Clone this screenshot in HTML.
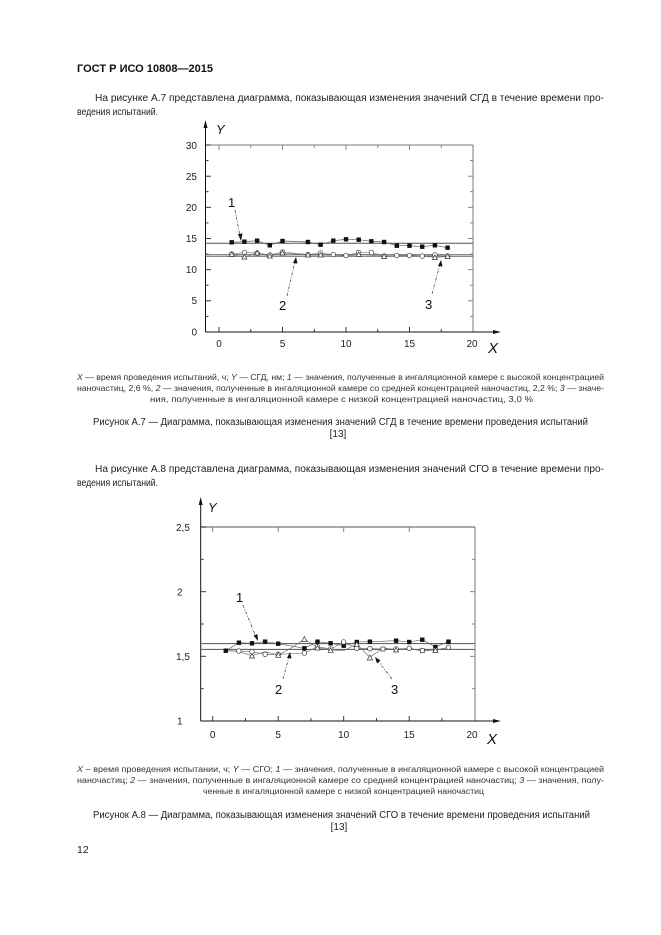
<!DOCTYPE html>
<html><head><meta charset="utf-8"><style>
html,body{margin:0;padding:0;background:#fff;}
svg{display:block;}
text{font-family:"Liberation Sans",Arial,sans-serif;}
</style></head><body>
<svg width="661" height="935" viewBox="0 0 661 935" xmlns="http://www.w3.org/2000/svg">
<rect width="661" height="935" fill="#fff"/>

<!-- Header -->
<text x="77" y="72" font-size="11" font-weight="bold" fill="#111" textLength="136" lengthAdjust="spacingAndGlyphs">ГОСТ Р ИСО 10808—2015</text>

<!-- Paragraph 1 -->
<text x="95" y="101" font-size="10" fill="#222" textLength="509" lengthAdjust="spacingAndGlyphs">На рисунке А.7 представлена диаграмма, показывающая изменения значений СГД в течение времени про-</text>
<text x="77" y="115" font-size="10" fill="#222" textLength="81" lengthAdjust="spacingAndGlyphs">ведения испытаний.</text>

<!-- ================= CHART 1 ================= -->
<g>
  <line x1="205.5" y1="145" x2="473" y2="145" stroke="#777" stroke-width="1"/>
  <line x1="473" y1="145" x2="473" y2="332" stroke="#777" stroke-width="1"/>
  <line x1="205.5" y1="332" x2="205.5" y2="126" stroke="#111" stroke-width="1"/>
  <polygon points="205.5,120 203.5,128 207.5,128" fill="#111"/>
  <line x1="205.5" y1="332" x2="494" y2="332" stroke="#111" stroke-width="1"/>
  <polygon points="501,332 493,330 493,334" fill="#111"/>
  <g stroke="#222" stroke-width="0.9">
    <line x1="205.5" y1="300.8" x2="211" y2="300.8"/><line x1="205.5" y1="269.7" x2="211" y2="269.7"/>
    <line x1="205.5" y1="238.5" x2="211" y2="238.5"/><line x1="205.5" y1="207.3" x2="211" y2="207.3"/>
    <line x1="205.5" y1="176.2" x2="211" y2="176.2"/><line x1="205.5" y1="145" x2="211" y2="145"/>
    <line x1="205.5" y1="316.4" x2="208.5" y2="316.4"/><line x1="205.5" y1="285.2" x2="208.5" y2="285.2"/>
    <line x1="205.5" y1="254.1" x2="208.5" y2="254.1"/><line x1="205.5" y1="222.9" x2="208.5" y2="222.9"/>
    <line x1="205.5" y1="191.7" x2="208.5" y2="191.7"/><line x1="205.5" y1="160.6" x2="208.5" y2="160.6"/>
  </g>
  <g stroke="#777" stroke-width="0.9">
    <line x1="473" y1="300.8" x2="468" y2="300.8"/><line x1="473" y1="269.7" x2="468" y2="269.7"/>
    <line x1="473" y1="238.5" x2="468" y2="238.5"/><line x1="473" y1="207.3" x2="468" y2="207.3"/>
    <line x1="473" y1="176.2" x2="468" y2="176.2"/>
    <line x1="473" y1="316.4" x2="470" y2="316.4"/><line x1="473" y1="285.2" x2="470" y2="285.2"/>
    <line x1="473" y1="254.1" x2="470" y2="254.1"/><line x1="473" y1="222.9" x2="470" y2="222.9"/>
    <line x1="473" y1="191.7" x2="470" y2="191.7"/><line x1="473" y1="160.6" x2="470" y2="160.6"/>
    <line x1="219" y1="145" x2="219" y2="150"/><line x1="282.5" y1="145" x2="282.5" y2="150"/>
    <line x1="346" y1="145" x2="346" y2="150"/><line x1="409.5" y1="145" x2="409.5" y2="150"/>
    <line x1="250.75" y1="145" x2="250.75" y2="148"/><line x1="314.25" y1="145" x2="314.25" y2="148"/>
    <line x1="377.75" y1="145" x2="377.75" y2="148"/><line x1="441.25" y1="145" x2="441.25" y2="148"/>
  </g>
  <g stroke="#222" stroke-width="0.9">
    <line x1="219" y1="332" x2="219" y2="327"/><line x1="282.5" y1="332" x2="282.5" y2="327"/>
    <line x1="346" y1="332" x2="346" y2="327"/><line x1="409.5" y1="332" x2="409.5" y2="327"/>
    <line x1="250.75" y1="332" x2="250.75" y2="329"/><line x1="314.25" y1="332" x2="314.25" y2="329"/>
    <line x1="377.75" y1="332" x2="377.75" y2="329"/><line x1="441.25" y1="332" x2="441.25" y2="329"/>
  </g>
  <g font-size="10" fill="#222" text-anchor="end">
    <text x="197" y="149">30</text><text x="197" y="180">25</text><text x="197" y="211">20</text>
    <text x="197" y="242">15</text><text x="197" y="273">10</text><text x="197" y="304">5</text>
    <text x="197" y="335.5">0</text>
  </g>
  <g font-size="10" fill="#222" text-anchor="middle">
    <text x="219" y="347">0</text><text x="282.5" y="347">5</text><text x="346" y="347">10</text>
    <text x="409.5" y="347">15</text><text x="472" y="347">20</text>
  </g>
  <text x="216" y="134" font-size="13" font-style="italic" fill="#111">Y</text>
  <text x="488" y="353" font-size="15" font-style="italic" fill="#111">X</text>

  <line x1="205.5" y1="243.3" x2="473" y2="243.3" stroke="#555" stroke-width="1"/>
  <line x1="205.5" y1="254.6" x2="473" y2="254.6" stroke="#777" stroke-width="1"/>
  <line x1="205.5" y1="256.2" x2="473" y2="256.2" stroke="#666" stroke-width="1"/>

  <polyline fill="none" stroke="#555" stroke-width="0.7" points="231.7,242.3 244.4,241.7 257.1,240.7 269.8,245.3 282.5,241 307.9,242 320.6,244.7 333.3,240.7 346,239.3 358.7,239.7 371.4,241.3 384.1,242 396.8,245.7 409.5,245.7 422.2,246.7 434.9,245.3 447.6,247.7"/>
  <g fill="#111">
    <rect x="229.5" y="240.1" width="4.4" height="4.4"/><rect x="242.2" y="239.5" width="4.4" height="4.4"/>
    <rect x="254.9" y="238.5" width="4.4" height="4.4"/><rect x="267.6" y="243.1" width="4.4" height="4.4"/>
    <rect x="280.3" y="238.8" width="4.4" height="4.4"/><rect x="305.7" y="239.8" width="4.4" height="4.4"/>
    <rect x="318.4" y="242.5" width="4.4" height="4.4"/><rect x="331.1" y="238.5" width="4.4" height="4.4"/>
    <rect x="343.8" y="237.1" width="4.4" height="4.4"/><rect x="356.5" y="237.5" width="4.4" height="4.4"/>
    <rect x="369.2" y="239.1" width="4.4" height="4.4"/><rect x="381.9" y="239.8" width="4.4" height="4.4"/>
    <rect x="394.6" y="243.5" width="4.4" height="4.4"/><rect x="407.3" y="243.5" width="4.4" height="4.4"/>
    <rect x="420" y="244.5" width="4.4" height="4.4"/><rect x="432.7" y="243.1" width="4.4" height="4.4"/>
    <rect x="445.4" y="245.5" width="4.4" height="4.4"/>
  </g>
  <polyline fill="none" stroke="#666" stroke-width="0.6" points="231.7,254 244.4,252.5 257.1,253 269.8,255 282.5,252 307.9,254.5 320.6,253 333.3,254.5 346,255.5 358.7,252.5 371.4,252.5 384.1,256 396.8,255.5 409.5,255.5 422.2,256 434.9,255 447.6,256"/>
  <polyline fill="none" stroke="#666" stroke-width="0.6" points="231.7,254.5 244.4,257 257.1,253 269.8,256 282.5,253 295.2,254 307.9,255 320.6,255 333.3,255 346,256 358.7,254.5 371.4,255 384.1,256.5 396.8,256 409.5,255 422.2,256 434.9,257.5 447.6,256.5"/>
  <g fill="#fff" stroke="#333" stroke-width="0.7">
    <circle cx="231.7" cy="254" r="2.3"/><circle cx="244.4" cy="252.5" r="2.3"/><circle cx="257.1" cy="253" r="2.3"/>
    <circle cx="269.8" cy="255" r="2.3"/><circle cx="282.5" cy="252" r="2.3"/><circle cx="307.9" cy="254.5" r="2.3"/>
    <circle cx="320.6" cy="253" r="2.3"/><circle cx="333.3" cy="254.5" r="2.3"/><circle cx="346" cy="255.5" r="2.3"/>
    <circle cx="358.7" cy="252.5" r="2.3"/><circle cx="371.4" cy="252.5" r="2.3"/><circle cx="384.1" cy="256" r="2.3"/>
    <circle cx="396.8" cy="255.5" r="2.3"/><circle cx="409.5" cy="255.5" r="2.3"/><circle cx="422.2" cy="256" r="2.3"/>
    <circle cx="434.9" cy="255" r="2.3"/><circle cx="447.6" cy="256" r="2.3"/>
    <polygon points="231.7,252 229.2,256.5 234.2,256.5"/><polygon points="244.4,254.5 241.9,259 246.9,259"/>
    <polygon points="257.1,250.5 254.6,255 259.6,255"/><polygon points="269.8,253.5 267.3,258 272.3,258"/>
    <polygon points="282.5,250.5 280,255 285,255"/><polygon points="307.9,252.5 305.4,257 310.4,257"/>
    <polygon points="320.6,252.5 318.1,257 323.1,257"/><polygon points="358.7,252 356.2,256.5 361.2,256.5"/>
    <polygon points="384.1,254 381.6,258.5 386.6,258.5"/><polygon points="434.9,255 432.4,259.5 437.4,259.5"/>
    <polygon points="447.6,254 445.1,258.5 450.1,258.5"/>
  </g>

  <g font-size="13" fill="#111">
    <text x="228" y="207">1</text><text x="279" y="310">2</text><text x="425" y="309">3</text>
  </g>
  <g stroke="#333" stroke-width="0.7" stroke-dasharray="3,1.5,1,1.5" fill="none">
    <line x1="235" y1="210" x2="240" y2="236"/>
    <line x1="287" y1="296" x2="295" y2="261"/>
    <line x1="432" y1="294" x2="440" y2="264"/>
  </g>
  <g fill="#111">
    <polygon points="241,241 238,234 242.5,233.5"/>
    <polygon points="296,257 293,263 297.5,263.5"/>
    <polygon points="441,260 438,266 442.5,266.5"/>
  </g>
</g>

<!-- Caption 1 -->
<g font-size="8" fill="#333">
  <text x="77" y="380" textLength="527" lengthAdjust="spacingAndGlyphs"><tspan font-style="italic">X</tspan> — время проведения испытаний, ч; <tspan font-style="italic">Y</tspan> — СГД, нм; <tspan font-style="italic">1</tspan> — значения, полученные в ингаляционной камере с высокой концентрацией</text>
  <text x="77" y="391" textLength="527" lengthAdjust="spacingAndGlyphs">наночастиц, 2,6 %, <tspan font-style="italic">2</tspan> — значения, полученные в ингаляционной камере со средней концентрацией наночастиц, 2,2 %; <tspan font-style="italic">3</tspan> — значе-</text>
  <text x="150" y="402" textLength="383" lengthAdjust="spacingAndGlyphs">ния, полученные в ингаляционной камере с низкой концентрацией наночастиц, 3,0 %</text>
</g>
<text x="93" y="425" font-size="10" fill="#222" textLength="495" lengthAdjust="spacingAndGlyphs">Рисунок А.7 — Диаграмма, показывающая изменения значений СГД в течение времени проведения испытаний</text>
<text x="338" y="437" font-size="10" fill="#222" text-anchor="middle">[13]</text>

<!-- Paragraph 2 -->
<text x="95" y="472" font-size="10" fill="#222" textLength="509" lengthAdjust="spacingAndGlyphs">На рисунке А.8 представлена диаграмма, показывающая изменения значений СГО в течение времени про-</text>
<text x="77" y="486" font-size="10" fill="#222" textLength="81" lengthAdjust="spacingAndGlyphs">ведения испытаний.</text>

<!-- ================= CHART 2 ================= -->
<g>
  <line x1="200.7" y1="527" x2="475" y2="527" stroke="#777" stroke-width="1.2"/>
  <line x1="475" y1="527" x2="475" y2="721" stroke="#777" stroke-width="1"/>
  <line x1="200.7" y1="721" x2="200.7" y2="503" stroke="#111" stroke-width="1"/>
  <polygon points="200.7,497 198.7,505 202.7,505" fill="#111"/>
  <line x1="200.7" y1="721" x2="494" y2="721" stroke="#111" stroke-width="1"/>
  <polygon points="501,721 493,719 493,723" fill="#111"/>
  <g stroke="#222" stroke-width="0.9">
    <line x1="200.7" y1="527" x2="206" y2="527"/><line x1="200.7" y1="591.7" x2="206" y2="591.7"/>
    <line x1="200.7" y1="656.3" x2="206" y2="656.3"/>
    <line x1="200.7" y1="559.3" x2="203.7" y2="559.3"/><line x1="200.7" y1="624" x2="203.7" y2="624"/>
    <line x1="200.7" y1="688.7" x2="203.7" y2="688.7"/>
    <line x1="212.7" y1="721" x2="212.7" y2="716"/><line x1="278.2" y1="721" x2="278.2" y2="716"/>
    <line x1="343.7" y1="721" x2="343.7" y2="716"/><line x1="409.2" y1="721" x2="409.2" y2="716"/>
    <line x1="245.4" y1="721" x2="245.4" y2="718"/><line x1="310.9" y1="721" x2="310.9" y2="718"/>
    <line x1="376.4" y1="721" x2="376.4" y2="718"/><line x1="441.9" y1="721" x2="441.9" y2="718"/>
  </g>
  <g stroke="#777" stroke-width="0.9">
    <line x1="475" y1="591.7" x2="470" y2="591.7"/><line x1="475" y1="656.3" x2="470" y2="656.3"/>
    <line x1="475" y1="559.3" x2="472" y2="559.3"/><line x1="475" y1="624" x2="472" y2="624"/>
    <line x1="475" y1="688.7" x2="472" y2="688.7"/>
    <line x1="212.7" y1="527" x2="212.7" y2="532"/><line x1="278.2" y1="527" x2="278.2" y2="532"/>
    <line x1="343.7" y1="527" x2="343.7" y2="532"/><line x1="409.2" y1="527" x2="409.2" y2="532"/>
  </g>
  <g font-size="10" fill="#222">
    <text x="176" y="531">2,5</text><text x="177" y="595.5">2</text>
    <text x="176" y="660">1,5</text><text x="177" y="724.5">1</text>
  </g>
  <g font-size="10" fill="#222" text-anchor="middle">
    <text x="212.7" y="738">0</text><text x="278.2" y="738">5</text><text x="343.7" y="738">10</text>
    <text x="409.2" y="738">15</text><text x="472" y="738">20</text>
  </g>
  <text x="208" y="512" font-size="13" font-style="italic" fill="#111">Y</text>
  <text x="487" y="744" font-size="15" font-style="italic" fill="#111">X</text>

  <line x1="200.7" y1="643.6" x2="475" y2="643.6" stroke="#666" stroke-width="1.1"/>
  <line x1="200.7" y1="649.4" x2="475" y2="649.4" stroke="#666" stroke-width="1.1"/>

  <polyline fill="none" stroke="#555" stroke-width="0.6" points="225.8,650.7 238.9,642.7 252,643.3 265.1,641.7 278.2,643.7 304.4,648.3 317.5,641.7 330.6,643.3 343.7,645.7 356.8,642 369.9,641.7 396.1,640.7 409.2,642 422.3,639.7 435.4,647 448.5,641.7"/>
  <polyline fill="none" stroke="#666" stroke-width="0.6" points="225.8,651 238.9,651 252,651.7 265.1,654.3 278.2,654.3 304.4,653 317.5,646.7 330.6,649 343.7,642 356.8,648.3 369.9,648.7 383,649 396.1,649 409.2,648.3 422.3,650.7 435.4,650 448.5,647.3"/>
  <polyline fill="none" stroke="#666" stroke-width="0.6" points="225.8,650.3 238.9,651.7 252,655.7 265.1,651.7 278.2,655 291.3,648 304.4,639 317.5,647.7 330.6,650 343.7,650.7 356.8,644 369.9,657.3 383,648 396.1,649.7 409.2,648.7 422.3,651 435.4,650 448.5,647.7"/>
  <g fill="#111">
    <rect x="223.6" y="648.5" width="4.4" height="4.4"/><rect x="236.7" y="640.5" width="4.4" height="4.4"/>
    <rect x="249.8" y="641.1" width="4.4" height="4.4"/><rect x="262.9" y="639.5" width="4.4" height="4.4"/>
    <rect x="276" y="641.5" width="4.4" height="4.4"/><rect x="302.2" y="646.1" width="4.4" height="4.4"/>
    <rect x="315.3" y="639.5" width="4.4" height="4.4"/><rect x="328.4" y="641.1" width="4.4" height="4.4"/>
    <rect x="341.5" y="643.5" width="4.4" height="4.4"/><rect x="354.6" y="639.8" width="4.4" height="4.4"/>
    <rect x="367.7" y="639.5" width="4.4" height="4.4"/><rect x="393.9" y="638.5" width="4.4" height="4.4"/>
    <rect x="407" y="639.8" width="4.4" height="4.4"/><rect x="420.1" y="637.5" width="4.4" height="4.4"/>
    <rect x="433.2" y="644.8" width="4.4" height="4.4"/><rect x="446.3" y="639.5" width="4.4" height="4.4"/>
  </g>
  <g fill="#fff" stroke="#333" stroke-width="0.7">
    <circle cx="238.9" cy="651" r="2.3"/><circle cx="252" cy="651.7" r="2.3"/>
    <circle cx="265.1" cy="654.3" r="2.3"/><circle cx="278.2" cy="654.3" r="2.3"/><circle cx="304.4" cy="653" r="2.3"/>
    <circle cx="317.5" cy="646.7" r="2.3"/><circle cx="330.6" cy="649" r="2.3"/><circle cx="343.7" cy="642" r="2.3"/>
    <circle cx="356.8" cy="648.3" r="2.3"/><circle cx="369.9" cy="648.7" r="2.3"/><circle cx="396.1" cy="649" r="2.3"/>
    <circle cx="409.2" cy="648.3" r="2.3"/><circle cx="448.5" cy="647.3" r="2.3"/>
    <rect x="381" y="647" width="4" height="4"/><rect x="420.3" y="648.7" width="4" height="4"/><rect x="433.4" y="648" width="4" height="4"/>
    <polygon points="252,653.5 249.5,658 254.5,658"/><polygon points="278.2,652.8 275.7,657.3 280.7,657.3"/>
    <polygon points="304.4,636.5 301.7,641.5 307.1,641.5"/><polygon points="317.5,645.5 315,650 320,650"/>
    <polygon points="330.6,647.8 328.1,652.3 333.1,652.3"/><polygon points="356.8,641.8 354.3,646.3 359.3,646.3"/>
    <polygon points="369.9,655 367.2,660 372.6,660"/><polygon points="396.1,647.5 393.6,652 398.6,652"/>
    <polygon points="435.4,648 432.9,652.5 437.9,652.5"/>
  </g>

  <g font-size="13" fill="#111">
    <text x="236" y="602">1</text><text x="275" y="694">2</text><text x="391" y="694">3</text>
  </g>
  <g stroke="#333" stroke-width="0.7" stroke-dasharray="3,1.5,1,1.5" fill="none">
    <line x1="243" y1="605" x2="256" y2="637"/>
    <line x1="283" y1="679" x2="289" y2="657"/>
    <line x1="392" y1="679" x2="378" y2="661"/>
  </g>
  <g fill="#111">
    <polygon points="258,641 253.5,635.5 257.5,634"/>
    <polygon points="290,652 287,658 291.5,658.5"/>
    <polygon points="375,657 377,663.5 380.5,660.5"/>
  </g>
</g>

<!-- Caption 2 -->
<g font-size="8" fill="#333">
  <text x="77" y="772" textLength="527" lengthAdjust="spacingAndGlyphs"><tspan font-style="italic">X</tspan> − время проведения испытании, ч; <tspan font-style="italic">Y</tspan> — СГО; <tspan font-style="italic">1</tspan> — значения, полученные в ингаляционной камере с высокой концентрацией</text>
  <text x="77" y="783" textLength="527" lengthAdjust="spacingAndGlyphs">наночастиц; <tspan font-style="italic">2</tspan> — значения, полученные в ингаляционной камере со средней концентрацией наночастиц; <tspan font-style="italic">3</tspan> — значения, полу-</text>
  <text x="203" y="794" textLength="281" lengthAdjust="spacingAndGlyphs">ченные в ингаляционной камере с низкой концентрацией наночастиц</text>
</g>
<text x="93" y="818" font-size="10" fill="#222" textLength="497" lengthAdjust="spacingAndGlyphs">Рисунок А.8 — Диаграмма, показывающая изменения значений СГО в течение времени проведения испытаний</text>
<text x="339" y="830" font-size="10" fill="#222" text-anchor="middle">[13]</text>

<text x="77" y="853" font-size="10.5" fill="#222">12</text>
</svg>
</body></html>
